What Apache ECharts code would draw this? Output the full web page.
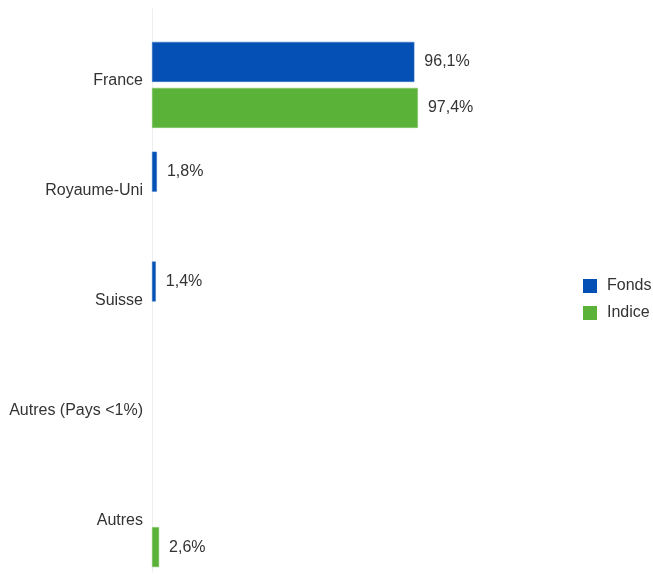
<!DOCTYPE html>
<html>
<head>
<meta charset="utf-8">
<script src="https://cdn.jsdelivr.net/npm/echarts@6/dist/echarts.min.js"></script>
<style>html,body{margin:0;padding:0;background:#fff}#c{width:653px;height:579px}</style>
</head>
<body>
<div id="c"></div>
<script>
const categories = ['France', 'Royaume-Uni', 'Suisse', 'Autres (Pays <1%)', 'Autres'];
const fondsValues = [96.1, 1.8, 1.4, null, null];
const indiceValues = [97.4, null, null, null, 2.6];
const seriesNames = ['Fonds', 'Indice'];

const fmt = p => p.value == null ? '' : p.value.toFixed(1).replace('.', ',') + '%';
const chart = echarts.init(document.getElementById('c'));
const labelStyle = {show: true, position: 'right', distance: 10, formatter: fmt, color: '#333', fontSize: 16, fontFamily: 'Liberation Sans, Arial, sans-serif'};
chart.setOption({
  animation: false,
  textStyle: {fontFamily: 'Liberation Sans, Arial, sans-serif'},
  legend: {
    orient: 'vertical', left: 583, top: 278, itemWidth: 14, itemHeight: 14, itemGap: 11,
    padding: 0, icon: 'rect', data: seriesNames,
    itemStyle: {borderWidth: 0},
    textStyle: {color: '#333', fontSize: 16, lineHeight: 14, padding: [0, 0, 0, 5]}
  },
  grid: [
    {left: 152, right: 228, top: 30, bottom: 0, containLabel: false},
    {left: 152, right: 228, top: 9, bottom: 7, containLabel: false}
  ],
  xAxis: [
    {type: 'value', min: 0, max: 100, gridIndex: 0, show: false},
    {type: 'value', min: 0, max: 100, gridIndex: 1, show: false}
  ],
  yAxis: [
    {type: 'category', data: categories, inverse: true, gridIndex: 0,
     axisLine: {show: false}, axisTick: {show: false}, splitLine: {show: false},
     axisLabel: {color: '#333', fontSize: 16, margin: 9, verticalAlign: 'bottom', lineHeight: 8}},
    {type: 'category', data: categories, gridIndex: 1,
     axisLine: {show: true, lineStyle: {color: '#eeeeee', width: 1}}, axisTick: {show: false},
     axisLabel: {show: false}, splitLine: {show: false}}
  ],
  series: [
    {name: seriesNames[0], type: 'bar', data: fondsValues, xAxisIndex: 0, yAxisIndex: 0,
     barWidth: 40, barGap: '15%', itemStyle: {color: '#0450b4', borderColor: '#3c78c8', borderWidth: 0.5}, label: labelStyle},
    {name: seriesNames[1], type: 'bar', data: indiceValues, xAxisIndex: 0, yAxisIndex: 0,
     barWidth: 40, barGap: '15%', itemStyle: {color: '#5bb238', borderColor: '#84c66a', borderWidth: 0.5}, label: labelStyle}
  ]
});
</script>
</body>
</html>
